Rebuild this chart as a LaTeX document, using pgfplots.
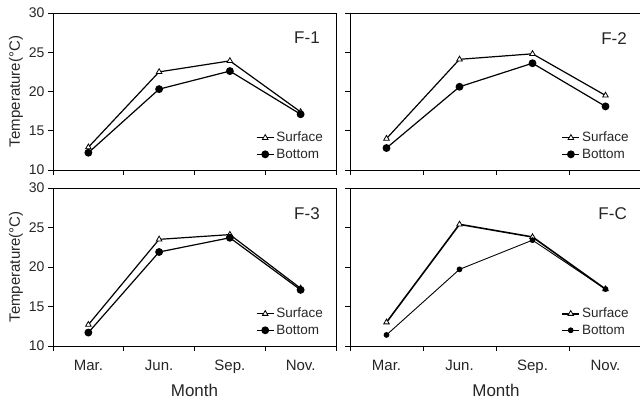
\documentclass[border=0pt]{standalone}
\usepackage{pgfplots}
\pgfplotsset{compat=1.18}
\usepackage{fontspec}
\setmainfont{Liberation Sans}
\pgfplotsset{
  panel/.style={scale only axis, anchor=south west,
    xmin=0.5, xmax=4.5, ymin=10, ymax=30,
    ytick={10,15,20,25,30}, xtick={0.5,1.5,2.5,3.5,4.5},
    x tick label as interval,
    tick pos=left, tick align=outside, major tick length=5pt,
    axis line style={line width=0.9pt, black},
    every tick/.style={black, line width=0.9pt},
    tick label style={font=\fontsize{14}{16}\selectfont, text=black!85},
    x tick label style={font=\fontsize{15}{17}\selectfont, yshift=-5pt,
      text height=11pt, text depth=3pt},
    /pgf/number format/assume math mode=true,
    legend style={draw=none, fill=none, at={(0.965,0.045)}, anchor=south east,
      font=\fontsize{13.5}{15}\selectfont, row sep=1.5pt, inner sep=1pt, text=black!85},
    legend cell align=left,
    clip=false,
    label style={text=black!85},
    ylabel style={font=\fontsize{15}{17}\selectfont, yshift=-1pt},
  },
}
\tikzset{
  sfc/.style={black, line width=1.2pt, mark=triangle*, mark size=3.2pt,
    mark options={fill=white, line width=0.8pt}},
  btm/.style={black, line width=1.2pt, mark=*, mark size=3.3pt},
  lbl/.style={font=\fontsize{17}{19}\selectfont, text=black!85, anchor=east},
}
\begin{document}
\begin{tikzpicture}
\useasboundingbox (0pt,0pt) rectangle (640pt,401pt);
% F-1
\begin{axis}[panel, at={(53pt,231pt)}, width=283pt, height=157pt,
  xticklabels={}, ylabel={Temperature(°C)}]
\addplot[sfc] coordinates {(1,12.9) (2,22.5) (3,23.9) (4,17.4)};
\addlegendentry{Surface}
\addplot[btm] coordinates {(1,12.2) (2,20.3) (3,22.6) (4,17.1)};
\addlegendentry{Bottom}
\node[lbl] at (rel axis cs:0.955,0.84) {F-1};
\end{axis}
% F-2
\begin{axis}[panel, at={(350pt,231pt)}, width=292pt, height=157pt,
  xticklabels={}, yticklabels={}]
\addplot[sfc] coordinates {(1,14.0) (2,24.1) (3,24.8) (4,19.5)};
\addlegendentry{Surface}
\addplot[btm] coordinates {(1,12.8) (2,20.6) (3,23.6) (4,18.1)};
\addlegendentry{Bottom}
\node[lbl] at (rel axis cs:0.96,0.84) {F-2};
\end{axis}
% F-3
\begin{axis}[panel, at={(53pt,55pt)}, width=283pt, height=158pt,
  xticklabels={Mar.,Jun.,Sep.,Nov.}, ylabel={Temperature(°C)}, xlabel={Month},
  xlabel style={font=\fontsize{17}{19}\selectfont, yshift=-4pt}]
\addplot[sfc] coordinates {(1,12.7) (2,23.5) (3,24.1) (4,17.3)};
\addlegendentry{Surface}
\addplot[btm] coordinates {(1,11.7) (2,21.9) (3,23.7) (4,17.1)};
\addlegendentry{Bottom}
\node[lbl] at (rel axis cs:0.955,0.84) {F-3};
\end{axis}
% F-C
\begin{axis}[panel, at={(350pt,55pt)}, width=292pt, height=158pt,
  xticklabels={Mar.,Jun.,Sep.,Nov.}, yticklabels={}, xlabel={Month},
  xlabel style={font=\fontsize{17}{19}\selectfont, yshift=-4pt}]
\addplot[sfc, line width=1.6pt] coordinates {(1,13.0) (2,25.4) (3,23.8) (4,17.2)};
\addlegendentry{Surface}
\addplot[btm, line width=0.9pt, mark size=2.4pt] coordinates {(1,11.4) (2,19.7) (3,23.4) (4,17.2)};
\addlegendentry{Bottom}
\node[lbl] at (rel axis cs:0.96,0.84) {F-C};
\end{axis}
\end{tikzpicture}
\end{document}
